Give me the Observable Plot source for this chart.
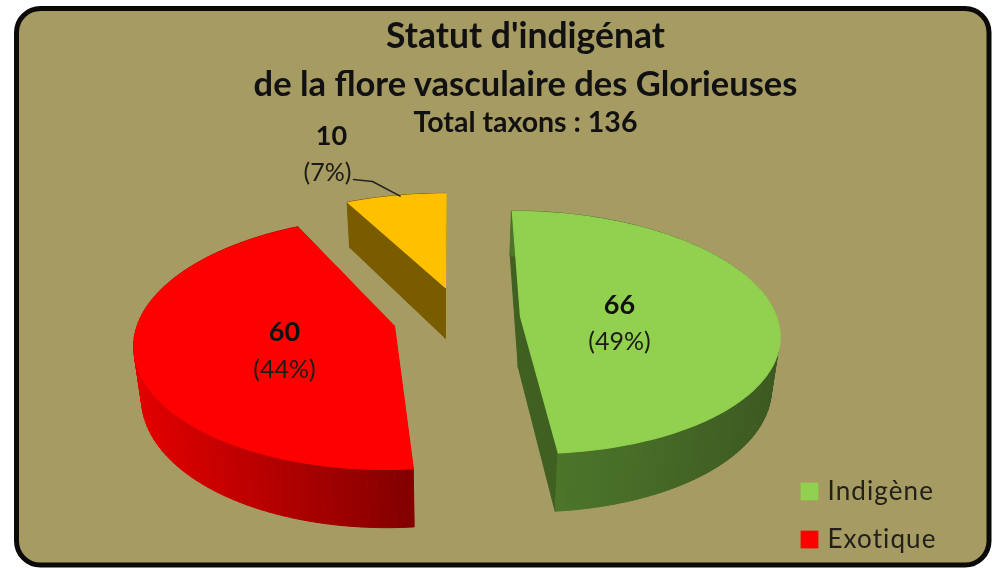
<!DOCTYPE html>
<html><head><meta charset="utf-8">
<script src="https://cdn.jsdelivr.net/npm/d3@7"></script>
<script src="https://cdn.jsdelivr.net/npm/@observablehq/plot@0.6"></script>
<style>
html,body{margin:0;padding:0;background:#fff}
svg{display:block;filter:blur(0.5px)}
.legend text{letter-spacing:1.1px}
</style></head><body><div id="chart"></div>
<script>
// ---- data ----
const titleLines = ["Statut d'indigénat", "de la flore vasculaire des Glorieuses"];
const categories = ["Indigène", "Exotique", "Autre"];
const values = [66, 60, 10];
const legendCategories = ["Indigène", "Exotique"];
const topColors = ["#92D050", "#FF0000", "#FFC000"];
const wallFrom = ["#4c762a", "#e40000", "#7a5c00"];
const wallTo = ["#3d5a22", "#820000", "#7a5c00"];

// ---- layout of the exploded perspective pie (scale units = px) ----
const apexX = [520, 394, 445], apexY = [316, 326, 287], radiusY = [119, 124, 106];
const radiusX = [256, 257, 246];
const focal = 7.56, vanishX = 450, thickness = 51, baseShrink = 0.975;
const valueX = [619, 284, 331], pctX = [619, 284, 327], valueY = [305, 332, 136], pctY = [341, 369, 172];

const total = d3.sum(values);
const cum = d3.cumsum(values);
const startA = values.map((v, i) => (cum[i] - v) / total * 2 * Math.PI);
const endA = values.map((v, i) => cum[i] / total * 2 * Math.PI);

function proj(i, a, r = 1, base = false) {
  const d = r * Math.cos(a), s = focal / (focal + d);
  let x = vanishX + (apexX[i] - vanishX + r * radiusX[i] * Math.sin(a)) * s;
  let y = apexY[i] - r * radiusY[i] * Math.cos(a) * s;
  if (base) { x = vanishX + (x - vanishX) * baseShrink; y += thickness * s; }
  return [x, y];
}

const tops = [], walls = [];
values.forEach((v, i) => {
  const steps = Math.ceil(v * 1.5);
  const arc = d3.range(steps + 1).map(k => startA[i] + (endA[i] - startA[i]) * k / steps);
  const c = categories[i];
  // cut walls
  [startA[i], endA[i]].forEach((a, j) => {
    [0, 1].forEach(r => {
      const t = proj(i, a, r), b = proj(i, a, r, true);
      walls.push({k: c + "cut" + j, x1: t[0], y1: t[1], x2: b[0], y2: b[1],
        c: i === 0 ? "#3f6020" : wallTo[i]});
    });
  });
  // top face
  tops.push({k: c, x: proj(i, 0, 0)[0], y: proj(i, 0, 0)[1], c: topColors[i]});
  arc.forEach(a => { const p = proj(i, a); tops.push({k: c, x: p[0], y: p[1], c: topColors[i]}); });
  // outer wall strips with shading along the arc
  const xs = arc.map(a => proj(i, a)[0]);
  const lo = i === 0 ? proj(i, endA[i])[0] : d3.min(xs), hi = i === 0 ? proj(i, Math.PI / 2)[0] : proj(i, startA[i])[0];
  const shade = d3.interpolateRgb(wallFrom[i], wallTo[i]);
  d3.pairs(arc).forEach(([a0, a1], n) => {
    const xm = proj(i, (a0 + a1) / 2)[0];
    const col = shade(Math.max(0, Math.min(1, (xm - lo) / (hi - lo))));
    [a0, a1].forEach(a => {
      const t = proj(i, a), b = proj(i, a, 1, true);
      walls.push({k: c + n, x1: t[0], y1: t[1], x2: b[0], y2: b[1], c: col});
    });
  });
});

const pct = values.map(v => `(${Math.round(v / total * 100)}%)`);
const idx = d3.range(values.length);
const leaderEnd = proj(2, (startA[2] + endA[2]) / 2);
const leader = [
  {x: pctX[2] + 26, y: pctY[2] + 7},
  {x: pctX[2] + 45, y: pctY[2] + 9},
  {x: leaderEnd[0] + 4, y: leaderEnd[1]}
];
const font = "Lato";
const legendY = [491, 539];
const swatchX = 809, legendTextX = 827;

const plot = Plot.plot({
  width: 992, height: 568, margin: 0,
  x: {domain: [0, 992], range: [0, 992], axis: null},
  y: {domain: [0, 568], range: [0, 568], axis: null},
  color: {type: "identity"},
  style: {background: "#fff", fontFamily: font, color: "#111"},
  marks: [
    Plot.rect([0], {x1: 16.5, x2: 989, y1: 8.5, y2: 565, rx: 24, fill: "#A69B63", stroke: "#0c0a08", strokeWidth: 5}),
    Plot.text([titleLines[0]], {x: 525, y: 36, text: d => d, fontSize: 35.5, fontWeight: 700, fill: "#111"}),
    Plot.text([titleLines[1]], {x: 525, y: 84, text: d => d, fontSize: 34.5, fontWeight: 700, fill: "#111"}),
    Plot.text([`Total taxons : ${total}`], {x: 525, y: 122, text: d => d, fontSize: 28.5, fontWeight: 700, fill: "#111"}),
    Plot.area(walls, {x1: "x1", y1: "y1", x2: "x2", y2: "y2", z: "k", fill: "c", stroke: "c", strokeWidth: 1}),
    Plot.line(tops, {x: "x", y: "y", z: "k", fill: "c", stroke: "c", strokeWidth: 1.2, curve: "linear-closed"}),
    Plot.line(leader, {x: "x", y: "y", stroke: "#222", strokeWidth: 1.5}),
    Plot.text(idx, {x: i => valueX[i], y: i => valueY[i], text: i => String(values[i]), fontSize: 27, fontWeight: 700, fill: "#111"}),
    Plot.text(idx, {x: i => pctX[i], y: i => pctY[i], text: i => pct[i], fontSize: 25, fontWeight: 400, fill: "#1c1c14"}),
    Plot.dot(legendCategories, {x: swatchX, y: (d, i) => legendY[i], symbol: "square", r: 10, fill: (d, i) => topColors[i]}),
    Plot.text(legendCategories, {x: legendTextX, y: (d, i) => legendY[i], text: d => d, textAnchor: "start", fontSize: 26, fill: "#22201a", className: "legend"})
  ]
});
document.getElementById("chart").append(plot);
</script></body></html>
